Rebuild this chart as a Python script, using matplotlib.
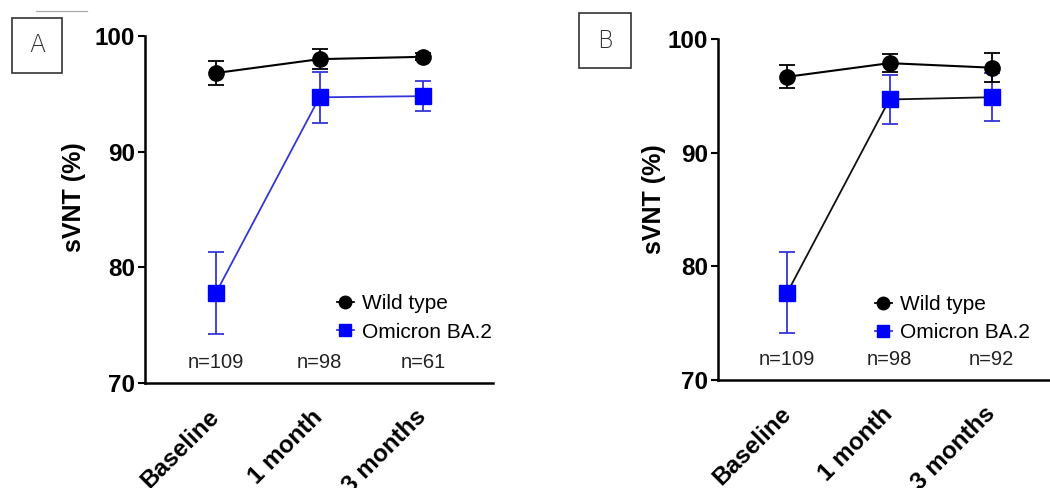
import matplotlib
matplotlib.use("Agg")
import matplotlib.pyplot as plt
from matplotlib.patches import Rectangle
from matplotlib.lines import Line2D

categories = ['Baseline', '1 month', '3 months']
yticks = [70, 80, 90, 100]

A_wt = [96.8, 98.0, 98.2]
A_wt_err = [1.0, 0.85, 0.3]
A_om = [77.8, 94.7, 94.8]
A_om_err = [3.55, 2.2, 1.3]
A_n = ['n=109', 'n=98', 'n=61']

B_wt = [96.7, 97.9, 97.5]
B_wt_err = [1.0, 0.8, 1.25]
B_om = [77.7, 94.7, 94.9]
B_om_err = [3.55, 2.2, 2.1]
B_n = ['n=109', 'n=98', 'n=92']

FONT = 'Liberation Sans'
BLUE = '#0000ff'
BLUE_LINE = '#3535d8'

fig = plt.figure(figsize=(10.5, 4.88), dpi=100)
W, H = 1050, 488

def add_ax(left, right, top, bottom):
    return fig.add_axes([left / W, (H - bottom) / H, (right - left) / W, (bottom - top) / H])

def panel(ax, wt, wt_err, om, om_err, nlab, om_line_color, xlim, leg_xy):
    x = list(range(len(categories)))
    ax.errorbar(x, wt, yerr=wt_err, color='black', marker='o', markersize=11,
                lw=1.5, elinewidth=1.3, capsize=5.5, capthick=1.3, zorder=4,
                label='Wild type')
    ax.plot(x, om, color=om_line_color, lw=1.3, zorder=2)
    ax.errorbar(x, om, yerr=om_err, color=BLUE_LINE, marker='s', markersize=11,
                mfc=BLUE, mec=BLUE, ls='none', elinewidth=1.3, capsize=5.5,
                capthick=1.3, zorder=3, label='Omicron BA.2')
    for xi, t in zip(x, nlab):
        ax.text(xi, 71.8, t, ha='center', va='center', fontsize=14.5,
                family=FONT, color='#222222')
    ax.set_xlim(*xlim)
    ax.set_ylim(70, 100)
    ax.set_yticks(yticks)
    ax.set_yticklabels([str(v) for v in yticks], fontsize=17.5,
                       fontweight='bold', family=FONT)
    ax.set_xticks(x)
    ax.set_xticklabels(categories, fontsize=17.5, fontweight='bold', family=FONT,
                       rotation=45, ha='right', va='center', rotation_mode='anchor')
    ax.tick_params(axis='x', length=0, pad=22)
    ax.tick_params(axis='y', length=5, width=1.5, pad=2)
    for s in ['top', 'right']:
        ax.spines[s].set_visible(False)
    for s in ['left', 'bottom']:
        ax.spines[s].set_linewidth(1.8)
    ax.set_ylabel('sVNT (%)', fontsize=18, fontweight='bold', family=FONT)
    h_wt = Line2D([], [], color='black', marker='o', markersize=9, lw=1.3)
    h_om = Line2D([], [], color=BLUE_LINE, marker='s', markersize=9, mfc=BLUE,
                  mec=BLUE, lw=1.3)
    ax.legend([h_wt, h_om], ['Wild type', 'Omicron BA.2'], loc='upper left',
              bbox_to_anchor=leg_xy, frameon=False, handlelength=0.8,
              handletextpad=0.4, labelspacing=0.45, borderpad=0, borderaxespad=0,
              prop={'family': FONT, 'size': 15})
    ax.patch.set_alpha(0)

axA = add_ax(145, 493, 36, 383)
panel(axA, A_wt, A_wt_err, A_om, A_om_err, A_n, BLUE_LINE, (-0.686, 2.676),
      (0.552, 0.256))
axB = add_ax(718, 1050, 39.3, 380)
panel(axB, B_wt, B_wt_err, B_om, B_om_err, B_n, '#111111', (-0.678, 2.57),
      (0.473, 0.25))

axA.yaxis.set_label_coords(-0.17, 0.535)
axB.yaxis.set_label_coords(-0.157, 0.53)

def box(x0, y0, x1, y1, label):
    fig.patches.append(Rectangle((x0 / W, (H - y1) / H), (x1 - x0) / W, (y1 - y0) / H,
                                 transform=fig.transFigure, fill=False,
                                 edgecolor='#333333', lw=1.2))
    fig.text((x0 + x1) / 2 / W, (H - (y0 + y1) / 2) / H, label, ha='center',
             va='center', fontsize=17, family='DejaVu Sans', color='#333333',
             fontweight='light')

box(12, 18, 62, 73, 'A')
box(579, 13, 631, 68, 'B')
fig.lines.append(Line2D([36 / W, 87 / W], [(H - 11) / H, (H - 11) / H],
                        transform=fig.transFigure, color='#aaaaaa', lw=0.9))

fig.savefig('out.png', dpi=100)
